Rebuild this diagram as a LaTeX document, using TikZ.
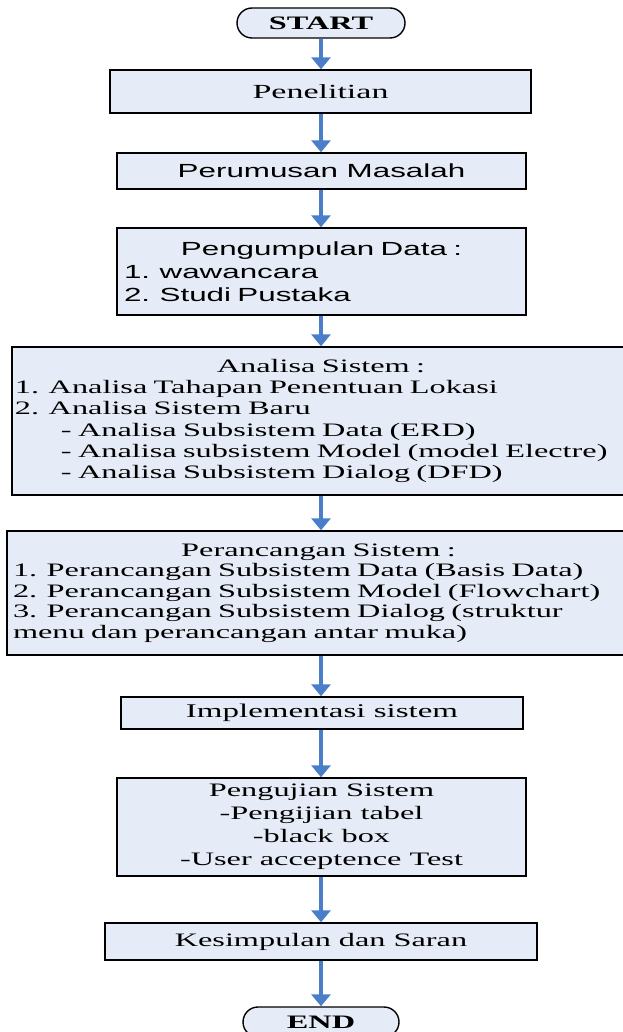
\documentclass[tikz,border=0pt]{standalone}
\usepackage{fontspec}
\setmainfont{Liberation Serif}[FakeStretch=1.7]
\setsansfont{Liberation Sans}[FakeStretch=1.65]
\usetikzlibrary{arrows.meta,positioning}
\definecolor{boxfill}{RGB}{230,236,247}
\definecolor{flowblue}{RGB}{74,126,200}
\newcommand\ctrline[1]{\hfill#1\hfill\null}

\begin{document}
\begin{tikzpicture}[x=0.5pt,y=-0.5pt,
  every node/.style={font=\fontsize{9.5}{10.6}\selectfont},
  box/.style={draw=black,line width=.7pt,fill=boxfill,inner sep=0pt},
  term/.style={box,rounded corners=7.5pt,minimum height=15pt,font=\bfseries\fontsize{9.5}{10.6}\selectfont},
  sans/.style={font=\sffamily\fontsize{9.5}{11.5}\selectfont},
  flow/.style={draw=flowblue,line width=1.6pt,-{Triangle[width=9.5pt,length=6pt]}}]
\useasboundingbox (0,0) rectangle (622,1032);
\coordinate (ax) at (321,0);
\node[term,minimum width=84pt] (start) at (321,23) {START};
\node[box,minimum width=210.5pt,minimum height=21.5pt,font=\fontsize{10}{11}\selectfont] (pen) at (320.5,91.5) {Penelitian};
\node[box,sans,minimum width=204.5pt,minimum height=18pt] (rumus) at (321.5,171) {Perumusan Masalah};
\node[box,sans,text width=197.5pt,inner xsep=3.5pt,align=left,minimum height=43.5pt] (kumpul) at (321.5,271.5)
  {\ctrline{Pengumpulan Data :}\\ 1. wawancara\\ 2. Studi Pustaka};
\node[box,text width=306pt,inner xsep=1.5pt,align=left,minimum height=74pt] (analisa) at (321,421)
  {\ctrline{Analisa Sistem :}\\
   1. Analisa Tahapan Penentuan Lokasi\\
   2. Analisa Sistem Baru\\
   \hspace*{23pt}- Analisa Subsistem Data (ERD)\\
   \hspace*{23pt}- Analisa subsistem Model (model Electre)\\
   \hspace*{23pt}- Analisa Subsistem Dialog (DFD)};
\node[box,text width=305.5pt,inner xsep=3pt,align=left,minimum height=62pt,font=\fontsize{9.5}{10.3}\selectfont] (rancang) at (318.5,593)
  {\ctrline{Perancangan Sistem :}\\
   1. Perancangan Subsistem Data (Basis Data)\\
   2. Perancangan Subsistem Model (Flowchart)\\
   3. Perancangan Subsistem Dialog (struktur\\
   menu dan perancangan antar muka)};
\node[box,minimum width=201pt,minimum height=16pt,font=\fontsize{9.7}{10.8}\selectfont] (impl) at (322,713) {Implementasi sistem};
\node[box,align=center,minimum width=204.5pt,minimum height=49pt,font=\fontsize{9.5}{11.5}\selectfont] (uji) at (321.5,827)
  {Pengujian Sistem\\ -Pengijian tabel\\ -black box\\ -User acceptence Test};
\node[box,minimum width=216pt,minimum height=18.5pt] (simpul) at (321,941.5) {Kesimpulan dan Saran};
\node[term,minimum width=78pt] (end) at (321,1022) {END};
% arrows down the axis
\foreach \a/\b in {start/pen,pen/rumus,rumus/kumpul,kumpul/analisa,analisa/rancang,rancang/impl,impl/uji,uji/simpul,simpul/end}
  \draw[flow] (ax |- \a.south) -- (ax |- \b.north);
\end{tikzpicture}
\end{document}
